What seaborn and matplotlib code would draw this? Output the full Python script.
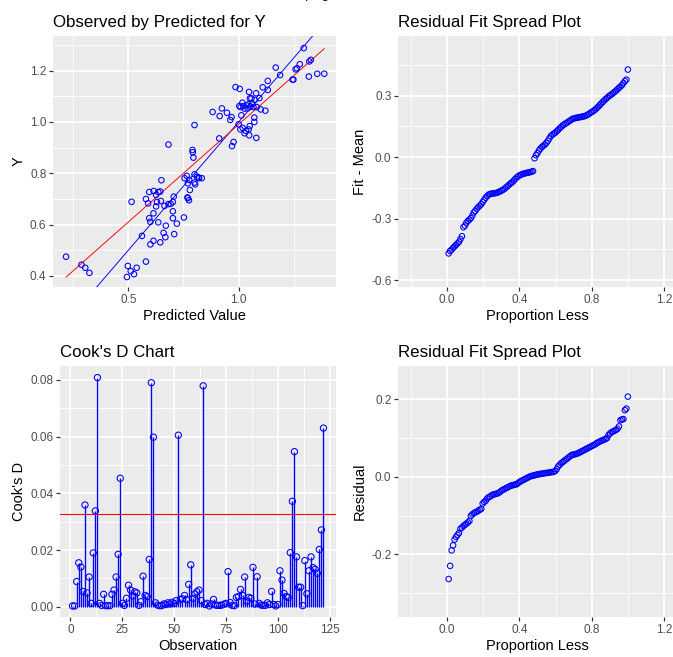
import numpy as np
import pandas as pd
import matplotlib
matplotlib.use("Agg")
import matplotlib.pyplot as plt
from matplotlib.ticker import FixedLocator, FormatStrFormatter
import seaborn as sns

# ---------------- data ----------------
predicted = [0.218, 0.288, 0.305, 0.324, 0.494, 0.498, 0.511, 0.526, 0.538, 0.580,
             0.515, 0.562, 0.600, 0.614, 0.645, 0.595, 0.600, 0.614, 0.636, 0.580,
             0.590, 0.595, 0.615, 0.626, 0.636, 0.645, 0.626, 0.630, 0.648, 0.650,
             0.660, 0.668, 0.670, 0.664, 0.682, 0.692, 0.702, 0.682, 0.702, 0.702,
             0.708, 0.706, 0.720, 0.752, 0.770, 0.775, 0.755, 0.765, 0.770, 0.776,
             0.779, 0.800, 0.800, 0.811, 0.821, 0.833, 0.791, 0.792, 0.795, 0.800,
             0.912, 0.970, 0.977, 0.882, 0.914, 0.924, 0.947, 0.962, 0.968, 0.986,
             1.005, 1.000, 1.008, 1.018, 1.027, 1.033, 1.045, 1.050, 1.048, 1.071,
             1.071, 1.080, 1.003, 1.009, 1.012, 1.017, 1.021, 1.027, 1.035, 1.041,
             1.045, 1.047, 1.051, 1.058, 1.053, 1.062, 1.067, 1.073, 1.079, 1.082,
             1.094, 1.100, 1.109, 1.121, 1.132, 1.132, 1.168, 1.188, 1.244, 1.248,
             1.258, 1.264, 1.277, 1.295, 1.318, 1.320, 1.327, 1.356, 1.388, 0.803,
             0.818, 0.768]
observed = [0.475, 0.444, 0.432, 0.412, 0.396, 0.439, 0.419, 0.407, 0.432, 0.456,
            0.689, 0.556, 0.523, 0.537, 0.531, 0.625, 0.611, 0.644, 0.609, 0.700,
            0.683, 0.727, 0.731, 0.716, 0.727, 0.729, 0.671, 0.688, 0.692, 0.773,
            0.568, 0.551, 0.596, 0.673, 0.680, 0.681, 0.688, 0.912, 0.652, 0.625,
            0.563, 0.709, 0.604, 0.628, 0.703, 0.695, 0.781, 0.790, 0.761, 0.774,
            0.735, 0.796, 0.764, 0.787, 0.781, 0.781, 0.891, 0.882, 0.861, 0.988,
            0.936, 0.906, 0.922, 1.039, 1.023, 1.053, 1.036, 1.008, 1.019, 1.136,
            1.129, 0.991, 0.971, 0.977, 0.956, 0.965, 0.971, 0.984, 0.948, 1.017,
            1.000, 0.938, 1.062, 1.058, 1.026, 1.075, 1.062, 1.052, 1.065, 1.053,
            1.069, 1.117, 1.092, 1.092, 1.060, 1.071, 1.058, 1.086, 1.112, 1.058,
            1.093, 1.049, 1.135, 1.044, 1.160, 1.125, 1.212, 1.183, 1.165, 1.165,
            1.205, 1.209, 1.225, 1.288, 1.177, 1.236, 1.242, 1.188, 1.188, 0.757,
            0.784, 0.706]
# red reference line: intercept and slope
fit_line_intercept = 0.2296
fit_line_slope = 0.761

cooks_d = [0.0003, 0.0003, 0.0089, 0.0155, 0.0140, 0.0054, 0.0359, 0.0049, 0.0105, 0.0012,
           0.0190, 0.0338, 0.0808, 0.0012, 0.0005, 0.0044, 0.0004, 0.0004, 0.0004, 0.0044,
           0.0059, 0.0105, 0.0185, 0.0453, 0.0012, 0.0005, 0.0030, 0.0076, 0.0059, 0.0038,
           0.0053, 0.0049, 0.0005, 0.0018, 0.0108, 0.0040, 0.0036, 0.0167, 0.0790, 0.0598,
           0.0014, 0.0006, 0.0004, 0.0004, 0.0010, 0.0008, 0.0014, 0.0010, 0.0016, 0.0012,
           0.0022, 0.0605, 0.0026, 0.0028, 0.0040, 0.0025, 0.0079, 0.0148, 0.0030, 0.0045,
           0.0053, 0.0059, 0.0022, 0.0779, 0.0008, 0.0012, 0.0003, 0.0010, 0.0026, 0.0006,
           0.0005, 0.0005, 0.0006, 0.0009, 0.0012, 0.0124, 0.0015, 0.0005, 0.0004, 0.0033,
           0.0036, 0.0061, 0.0040, 0.0105, 0.0020, 0.0033, 0.0030, 0.0139, 0.0010, 0.0106,
           0.0012, 0.0006, 0.0005, 0.0005, 0.0014, 0.0008, 0.0054, 0.0008, 0.0003, 0.0008,
           0.0127, 0.0094, 0.0047, 0.0036, 0.0033, 0.0191, 0.0372, 0.0547, 0.0176, 0.0069,
           0.0069, 0.0004, 0.0163, 0.0046, 0.0127, 0.0176, 0.0138, 0.0132, 0.0118, 0.0202,
           0.0271, 0.0630]
cooks_threshold = 4 / len(cooks_d)

fit_minus_mean = [-0.470, -0.458, -0.452, -0.443, -0.436, -0.428, -0.421, -0.413, -0.400, -0.386,
                  -0.342, -0.334, -0.320, -0.311, -0.305, -0.298, -0.285, -0.270, -0.262, -0.252,
                  -0.244, -0.237, -0.230, -0.219, -0.208, -0.198, -0.190, -0.183, -0.180, -0.178,
                  -0.177, -0.176, -0.175, -0.173, -0.169, -0.166, -0.162, -0.158, -0.153, -0.146,
                  -0.140, -0.133, -0.127, -0.122, -0.114, -0.106, -0.099, -0.093, -0.088, -0.085,
                  -0.082, -0.080, -0.078, -0.076, -0.075, -0.073, -0.071, -0.068, -0.005, 0.010,
                  0.020, 0.033, 0.042, 0.050, 0.056, 0.062, 0.070, 0.080, 0.092, 0.103,
                  0.110, 0.115, 0.120, 0.127, 0.134, 0.141, 0.148, 0.155, 0.160, 0.165,
                  0.169, 0.174, 0.179, 0.184, 0.188, 0.190, 0.192, 0.193, 0.195, 0.196,
                  0.198, 0.199, 0.201, 0.204, 0.208, 0.213, 0.218, 0.222, 0.227, 0.233,
                  0.240, 0.247, 0.254, 0.262, 0.270, 0.277, 0.284, 0.290, 0.297, 0.302,
                  0.307, 0.313, 0.319, 0.325, 0.332, 0.339, 0.345, 0.352, 0.362, 0.372,
                  0.379, 0.428]

residuals = [-0.264, -0.230, -0.190, -0.177, -0.162, -0.155, -0.150, -0.145, -0.134, -0.131,
             -0.127, -0.124, -0.121, -0.118, -0.114, -0.101, -0.097, -0.094, -0.092, -0.090,
             -0.088, -0.085, -0.083, -0.069, -0.065, -0.062, -0.056, -0.053, -0.051, -0.048,
             -0.046, -0.045, -0.044, -0.043, -0.041, -0.038, -0.035, -0.033, -0.031, -0.029,
             -0.027, -0.025, -0.023, -0.022, -0.021, -0.020, -0.019, -0.016, -0.013, -0.011,
             -0.009, -0.007, -0.005, -0.003, -0.001, 0.001, 0.002, 0.003, 0.004, 0.005,
             0.006, 0.007, 0.007, 0.008, 0.009, 0.009, 0.010, 0.010, 0.011, 0.012,
             0.012, 0.013, 0.015, 0.020, 0.027, 0.031, 0.035, 0.038, 0.041, 0.044,
             0.047, 0.050, 0.053, 0.056, 0.057, 0.058, 0.059, 0.060, 0.062, 0.064,
             0.066, 0.068, 0.070, 0.072, 0.074, 0.076, 0.078, 0.080, 0.082, 0.084,
             0.087, 0.089, 0.091, 0.093, 0.094, 0.096, 0.098, 0.100, 0.108, 0.112,
             0.115, 0.117, 0.119, 0.121, 0.124, 0.130, 0.146, 0.148, 0.149, 0.172,
             0.176, 0.207]

n = len(cooks_d)
observation = np.arange(1, n + 1)
proportion_less = observation / n

# ---------------- style ----------------
sns.set_style("darkgrid")
plt.rcParams["font.family"] = ["Liberation Sans", "DejaVu Sans"]
plt.rcParams["axes.unicode_minus"] = False

DPI = 96
W, H = 673, 657
fig = plt.figure(figsize=(W / DPI, H / DPI), dpi=DPI)


def add_axes(left, right, top, bottom):
    return fig.add_axes([left / W, (H - bottom) / H, (right - left) / W, (bottom - top) / H])


def style(ax, xlim, ylim, xmaj, xmin, ymaj, ymin, xfmt, yfmt, title, xlabel, ylabel):
    ax.set_facecolor("#EBEBEB")
    for s in ax.spines.values():
        s.set_visible(False)
    ax.set_xlim(xlim)
    ax.set_ylim(ylim)
    ax.xaxis.set_major_locator(FixedLocator(xmaj))
    ax.xaxis.set_minor_locator(FixedLocator(xmin))
    ax.yaxis.set_major_locator(FixedLocator(ymaj))
    ax.yaxis.set_minor_locator(FixedLocator(ymin))
    ax.xaxis.set_major_formatter(FormatStrFormatter(xfmt))
    ax.yaxis.set_major_formatter(FormatStrFormatter(yfmt))
    ax.grid(True, which="major", color="white", lw=1.3)
    ax.grid(True, which="minor", color="white", lw=0.65)
    ax.set_axisbelow(True)
    ax.tick_params(which="major", length=2.75, width=0.9, color="#333333",
                   labelcolor="#4D4D4D", labelsize=8.8, pad=2.2,
                   bottom=True, left=True)
    ax.tick_params(which="minor", length=0)
    ax.set_title(title, loc="left", fontsize=12.7, pad=6.5, color="black")
    ax.set_xlabel(xlabel, fontsize=11, labelpad=2.5, color="black")
    ax.set_ylabel(ylabel, fontsize=11, labelpad=3, color="black")


pt_kw = dict(marker="o", s=17, facecolors="none", edgecolor="blue", linewidth=0.8)

# ---- Observed by Predicted ----
ax1 = add_axes(53, 336, 36, 287)
df1 = pd.DataFrame({"Predicted": predicted, "Observed": observed})
ax1.axline((0.5, 0.5), slope=1, color="blue", lw=0.7, zorder=2)
line_x = np.array([df1["Predicted"].min(), df1["Predicted"].max()])
sns.lineplot(x=line_x, y=fit_line_intercept + fit_line_slope * line_x, ax=ax1,
             color="red", lw=0.7, zorder=3)
sns.scatterplot(data=df1, x="Predicted", y="Observed", ax=ax1, zorder=4, **pt_kw)
style(ax1, (0.159, 1.441), (0.357, 1.335), [0.5, 1.0], [0.25, 0.75, 1.25],
      [0.4, 0.6, 0.8, 1.0, 1.2], [0.5, 0.7, 0.9, 1.1, 1.3], "%.1f", "%.1f",
      "Observed by Predicted for Y", "Predicted Value", "Y")

# ---- Residual Fit Spread (fit) ----
ax2 = add_axes(398, 677, 36, 287)
df2 = pd.DataFrame({"Proportion": proportion_less, "Fit": fit_minus_mean})
sns.scatterplot(data=df2, x="Proportion", y="Fit", ax=ax2, **pt_kw)
style(ax2, (-0.272, 1.272), (-0.634, 0.592), [0.0, 0.4, 0.8, 1.2], [-0.2, 0.2, 0.6, 1.0],
      [-0.6, -0.3, 0.0, 0.3], [-0.45, -0.15, 0.15, 0.45], "%.1f", "%.1f",
      "Residual Fit Spread Plot", "Proportion Less", "Fit - Mean")

# ---- Cook's D ----
ax3 = add_axes(60, 336, 366, 617)
df3 = pd.DataFrame({"Observation": observation, "CooksD": cooks_d})
ax3.vlines(df3["Observation"], 0, df3["CooksD"], color="blue", lw=1.0, zorder=2)
sns.scatterplot(data=df3, x="Observation", y="CooksD", ax=ax3, zorder=3,
                marker="o", s=22, facecolors="none", edgecolor="blue", linewidth=0.8)
ax3.axhline(cooks_threshold, color="red", lw=0.8, zorder=4)
style(ax3, (-5.05, 128.05), (-0.0036, 0.0849), [0, 25, 50, 75, 100, 125],
      [12.5, 37.5, 62.5, 87.5, 112.5], [0.0, 0.02, 0.04, 0.06, 0.08],
      [0.01, 0.03, 0.05, 0.07], "%d", "%.2f",
      "Cook's D Chart", "Observation", "Cook's D")

# ---- Residual Fit Spread (residual) ----
ax4 = add_axes(398, 677, 366, 617)
df4 = pd.DataFrame({"Proportion": proportion_less, "Residual": residuals})
sns.scatterplot(data=df4, x="Proportion", y="Residual", ax=ax4, **pt_kw)
style(ax4, (-0.272, 1.272), (-0.362, 0.286), [0.0, 0.4, 0.8, 1.2], [-0.2, 0.2, 0.6, 1.0],
      [-0.2, 0.0, 0.2], [-0.3, -0.1, 0.1], "%.1f", "%.1f",
      "Residual Fit Spread Plot", "Proportion Less", "Residual")

fig.text(0.508, 1 + 2.0 / H, "page 2 of 3", ha="center", va="baseline",
         fontsize=11, color="#1A1A1A")

fig.savefig("out.png", dpi=DPI)
